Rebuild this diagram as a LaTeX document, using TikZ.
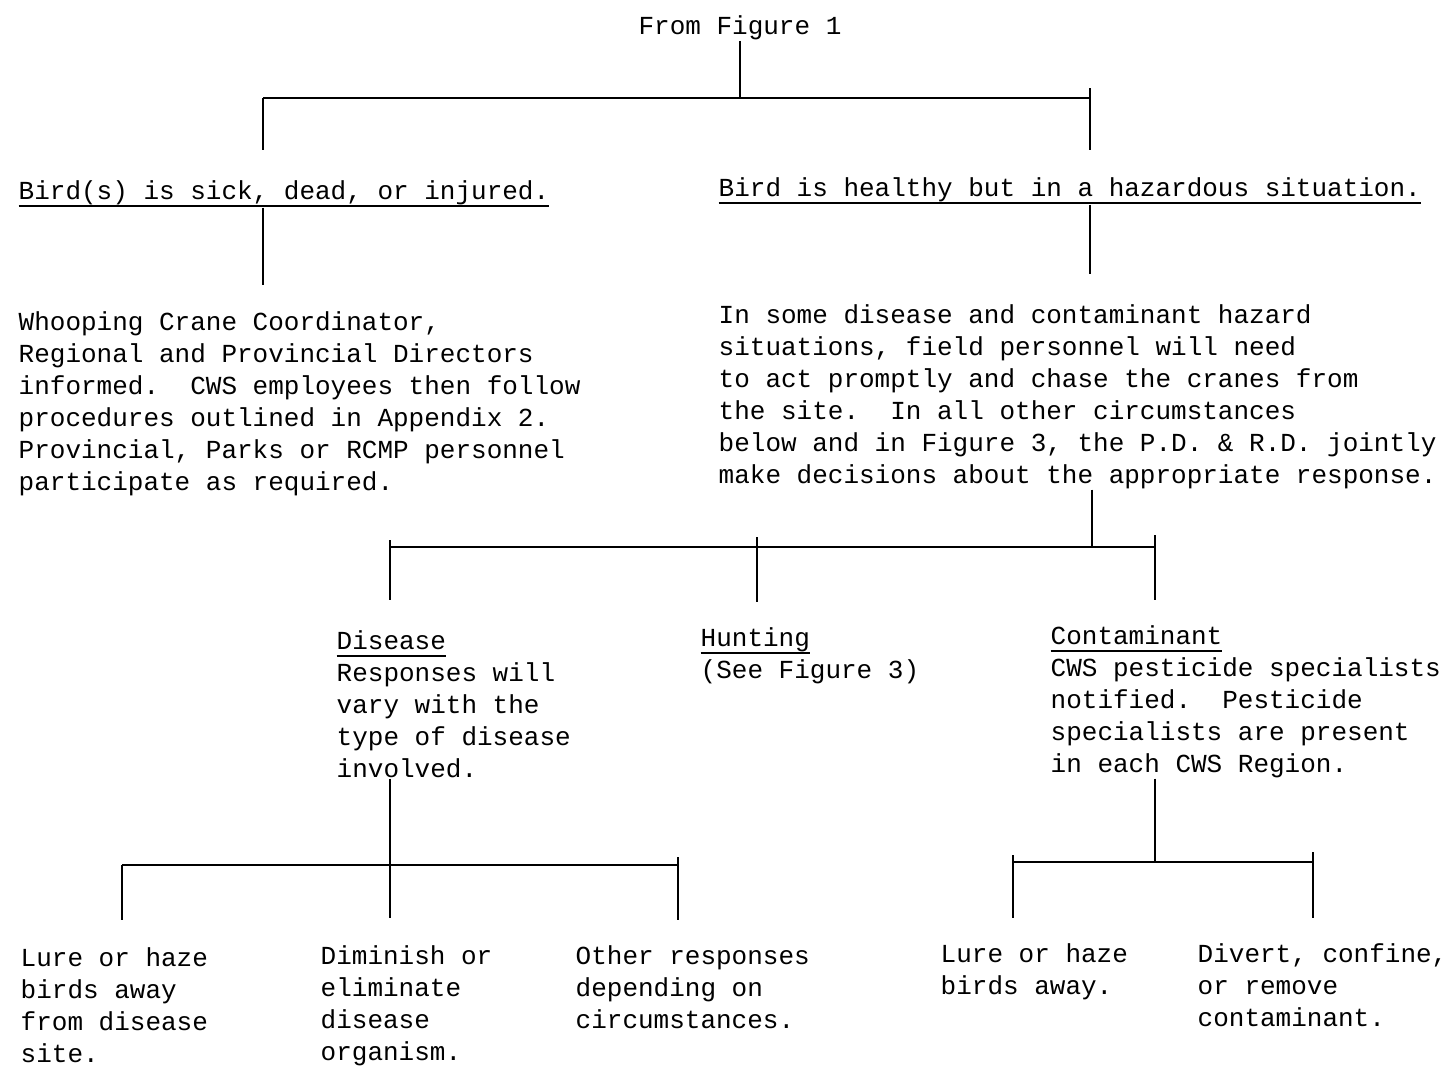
\documentclass[tikz,border=0pt]{standalone}
\usepackage{fontspec}
\setmonofont{Liberation Mono}
\usetikzlibrary{calc,positioning}
\tikzstyle{txt}=[anchor=north west,align=left,inner sep=0pt,font=\ttfamily\frenchspacing\fontsize{14.8}{18.2}\selectfont]
\tikzstyle{bar}=[line width=0.8pt]
\newcommand{\typeul}[1]{\setbox0\hbox{#1}\rlap{\copy0}\rule[-4.2pt]{\wd0}{0.9pt}}

\begin{document}
\begin{tikzpicture}[x=0.02cm,y=-0.02cm,bar]
\useasboundingbox (0,0) rectangle (1456,1066);
\draw (740, 28) node [txt, anchor=center] (fig1) {From Figure 1};
\draw (18, 180) node [txt] (sick) {\typeul{Bird(s) is sick, dead, or injured.}};
\draw (718, 177) node [txt] (safe) {\typeul{Bird is healthy but in a hazardous situation.}};
\draw (18, 311) node [txt] (inform) {Whooping Crane Coordinator,\\Regional and Provincial Directors\\informed.\ \ CWS employees then follow\\procedures outlined in Appendix 2.\\Provincial, Parks or RCMP personnel\\participate as required.};
\draw (718, 304) node [txt] (hazard) {In some disease and contaminant hazard\\situations, field personnel will need\\to act promptly and chase the cranes from\\the site.\ \ In all other circumstances\\below and in Figure 3, the P.D. \& R.D. jointly\\make decisions about the appropriate response.};
\draw (336, 630) node [txt] (disease) {\typeul{Disease}\\Responses will\\vary with the\\type of disease\\involved.};
\draw (700, 627) node [txt] (hunting) {\typeul{Hunting}\\(See Figure 3)};
\draw (1050, 625) node [txt] (contam) {\typeul{Contaminant}\\CWS pesticide specialists\\notified.\ \ Pesticide\\specialists are present\\in each CWS Region.};
\draw (20, 947) node [txt] (lure1) {Lure or haze\\birds away\\from disease\\site.};
\draw (320, 945) node [txt] (diminish) {Diminish or\\eliminate\\disease\\organism.};
\draw (575, 945) node [txt] (other) {Other responses\\depending on\\circumstances.};
\draw (940, 943) node [txt] (lure2) {Lure or haze\\birds away.};
\draw (1197, 943) node [txt] (divert) {Divert, confine,\\or remove\\contaminant.};

% first split
\coordinate (s1l) at (263, 98);
\coordinate (s1r) at (1090, 98);
\draw (fig1.south) -- (fig1.south |- s1l);
\draw (s1l) -- (s1r);
\draw (s1l) -- ++(0, 52);
\draw (s1r) ++(0, -10) -- ++(0, 62);
\draw (sick.south -| s1l) -- ++(0, 77);
\draw (safe.south -| s1r) -- ++(0, 69);

% second split
\coordinate (s2l) at (390, 547);
\coordinate (s2m) at (757, 547);
\coordinate (s2r) at (1155, 547);
\draw (hazard.south -| 1092, 0) -- (1092, 547);
\draw (s2l) -- (s2r);
\draw (s2l) ++(0, -7) -- ++(0, 60);
\draw (s2m) ++(0, -10) -- ++(0, 65);
\draw (s2r) ++(0, -12) -- ++(0, 65);

% disease split
\coordinate (s3l) at (122, 865);
\coordinate (s3r) at (678, 865);
\draw (disease.south -| s2l) -- (390, 918);
\draw (s3l) -- (s3r);
\draw (s3l) -- ++(0, 55);
\draw (s3r) ++(0, -8) -- ++(0, 63);

% contaminant split
\coordinate (s4l) at (1013, 862);
\coordinate (s4r) at (1313, 862);
\draw (contam.south -| s2r) -- (1155, 862);
\draw (s4l) -- (s4r);
\draw (s4l) ++(0, -7) -- ++(0, 63);
\draw (s4r) ++(0, -10) -- ++(0, 66);
\end{tikzpicture}
\end{document}
